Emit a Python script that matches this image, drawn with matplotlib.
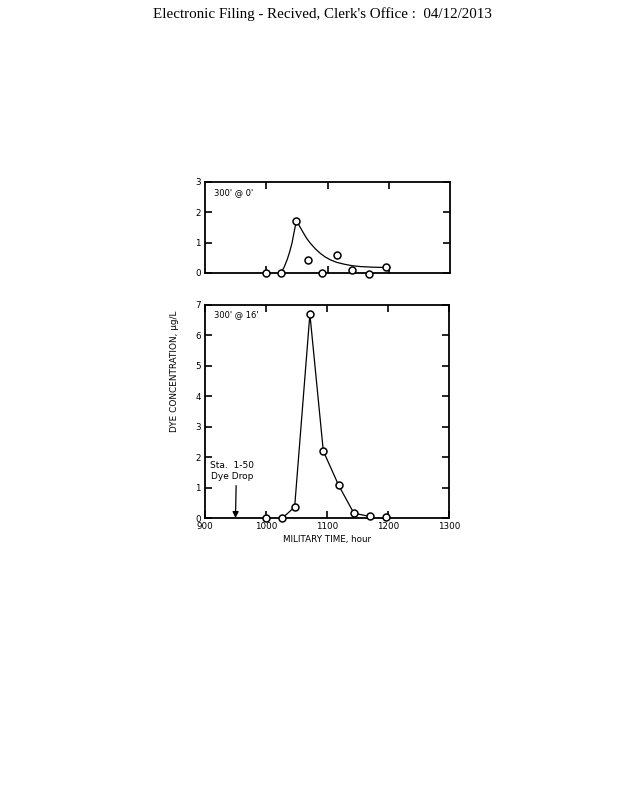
import numpy as np
import matplotlib.pyplot as plt

# Upper panel: 300' @ 0'
top_time = [1000, 1024, 1049, 1068, 1091, 1116, 1140, 1168, 1195]
top_conc = [0.0, 0.0, 1.7, 0.44, 0.0, 0.58, 0.09, -0.02, 0.19]
# fitted curve as drawn
top_fit_time = [1024, 1029, 1034, 1038, 1042, 1045, 1048, 1050, 1055, 1061, 1066,
                1072, 1080, 1088, 1096, 1105, 1115, 1127, 1140, 1154, 1175, 1195, 1202]
top_fit_conc = [0.0, 0.18, 0.43, 0.68, 0.98, 1.3, 1.6, 1.71, 1.52, 1.31, 1.14,
                0.98, 0.8, 0.65, 0.53, 0.43, 0.35, 0.29, 0.24, 0.21, 0.19, 0.18, 0.18]

# Lower panel: 300' @ 16'
bot_time = [1000, 1027, 1047, 1072, 1094, 1119, 1144, 1170, 1197]
bot_conc = [0.0, 0.0, 0.36, 6.7, 2.2, 1.08, 0.16, 0.05, 0.03]

dye_drop_time = 950

fig = plt.figure(figsize=(6.28, 8), dpi=100)
fig.text(0.513, 0.982, "Electronic Filing - Recived, Clerk's Office :  04/12/2013",
         ha='center', va='center', family='Liberation Serif', fontsize=10.8)


def style_axes(ax):
    for s in ax.spines.values():
        s.set_linewidth(1.3)
    ax.tick_params(direction='in', length=5, width=1.2, top=True, right=True,
                   labelsize=6.3, pad=3)


# top panel
ax1 = fig.add_axes([0.3264, 0.6588, 0.3902, 0.1137])
ax1.plot(top_fit_time, top_fit_conc, color='black', lw=0.9)
ax1.plot(top_time, top_conc, 'o', ms=5, mfc='white', mec='black', mew=1.1,
         clip_on=False, zorder=5)
ax1.set_xlim(900, 1300)
ax1.set_ylim(0, 3)
ax1.set_xticks([1000, 1100, 1200])
ax1.set_yticks([0, 1, 2, 3])
ax1.set_xticklabels([])
style_axes(ax1)
ax1.text(0.035, 0.93, "300' @ 0'", transform=ax1.transAxes, ha='left', va='top', fontsize=6)

# bottom panel
ax2 = fig.add_axes([0.3264, 0.3525, 0.3885, 0.2663])
ax2.plot(bot_time[1:-1], bot_conc[1:-1], color='black', lw=0.9)
ax2.plot(bot_time, bot_conc, 'o', ms=5, mfc='white', mec='black', mew=1.1,
         clip_on=False, zorder=5)
ax2.set_xlim(900, 1300)
ax2.set_ylim(0, 7)
ax2.set_xticks([900, 1000, 1100, 1200, 1300])
ax2.set_yticks(range(8))
style_axes(ax2)
ax2.text(0.035, 0.975, "300' @ 16'", transform=ax2.transAxes, ha='left', va='top', fontsize=6)
ax2.annotate("Sta.  1-50\nDye Drop", xy=(dye_drop_time, 0), xytext=(dye_drop_time - 6, 1.2),
             ha='center', va='bottom', linespacing=1.35, fontsize=6.5,
             arrowprops=dict(arrowstyle='-|>', color='black', lw=0.9,
                             mutation_scale=9, shrinkA=1, shrinkB=0,
                             relpos=(0.6, 0)))
ax2.set_xlabel('MILITARY TIME, hour', fontsize=6.3, labelpad=3)
ax2.set_ylabel('DYE CONCENTRATION, \u03bcg/L', fontsize=6.4)
ax2.yaxis.set_label_coords(-0.105, 0.69)

fig.savefig('out.png', dpi=100)
